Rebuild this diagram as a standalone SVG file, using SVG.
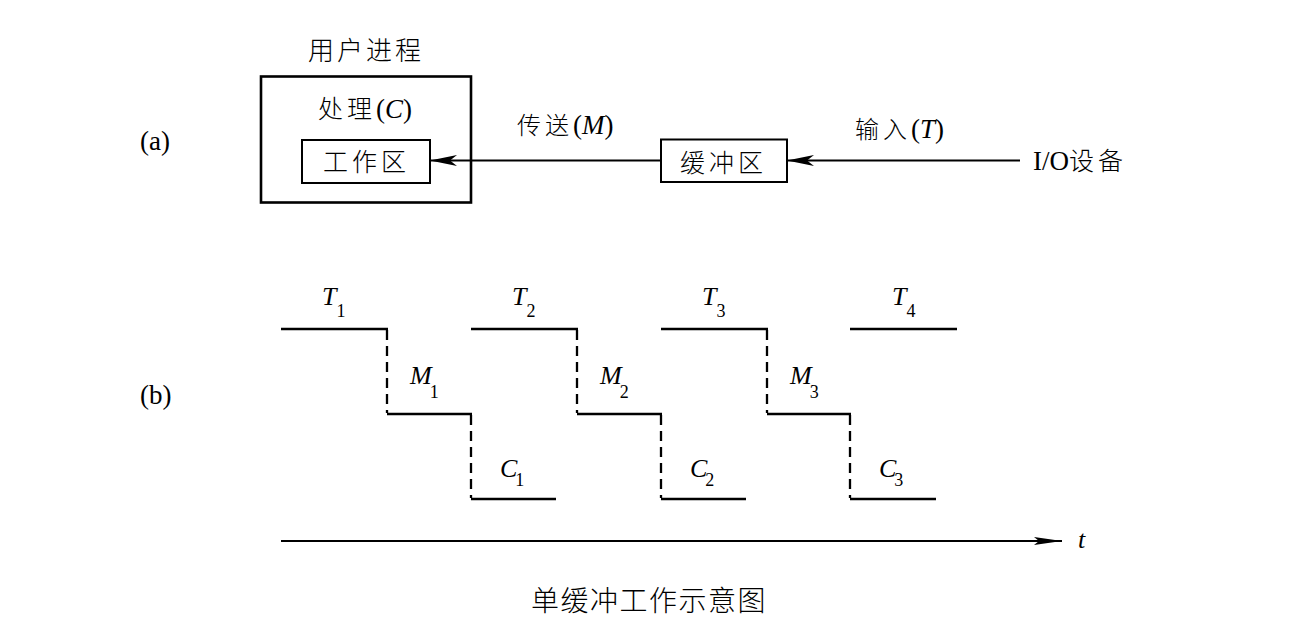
<svg xmlns="http://www.w3.org/2000/svg" width="1294" height="641" viewBox="0 0 1294 641">
<style>
.cjk{font-family:"Noto Sans CJK SC","Noto Sans",sans-serif;font-weight:300;fill:#000;}
.lat{font-family:"Liberation Serif","Times New Roman",serif;fill:#000;}
.it{font-style:italic;}
.box{fill:none;stroke:#000;stroke-width:2;}
.obox{fill:none;stroke:#000;stroke-width:2.6;}
.lvl{fill:none;stroke:#000;stroke-width:2.6;}
.dash{fill:none;stroke:#000;stroke-width:2.3;stroke-dasharray:10 6;}
.conn{fill:none;stroke:#000;stroke-width:2;}
</style>
<defs>
<marker id="ah" markerUnits="userSpaceOnUse" orient="auto" refX="0" refY="0" markerWidth="30" markerHeight="14" overflow="visible">
<path d="M0,0 L-27,-5.5 L-20,0 L-27,5.5 Z" fill="#000"/>
</marker>
<marker id="ah2" markerUnits="userSpaceOnUse" orient="auto" refX="0" refY="0" markerWidth="30" markerHeight="10" overflow="visible">
<path d="M0,0 L-28,-4 L-23,0 L-28,4 Z" fill="#000"/>
</marker>
</defs>
<rect width="1294" height="641" fill="#fff"/>

<text class="lat" x="140" y="150" font-size="27">(a)</text>
<text class="lat" x="140" y="404" font-size="27">(b)</text>

<g id="user-process">
<text class="cjk" x="308" y="60" font-size="26" letter-spacing="3">用户进程</text>
<rect class="obox" x="261" y="76.5" width="210" height="126"/>
<text x="318" y="118"><tspan class="cjk" font-size="25" letter-spacing="4">处理</tspan><tspan class="lat" font-size="27">(</tspan><tspan class="lat it" font-size="27">C</tspan><tspan class="lat" font-size="27">)</tspan></text>
</g>
<g id="work-area">
<rect class="box" x="302" y="140" width="128" height="43"/>
<text class="cjk" x="323" y="171" font-size="25" letter-spacing="4">工作区</text>
</g>
<g id="buffer">
<rect class="box" x="661" y="139.5" width="126" height="42.5"/>
<text class="cjk" x="680" y="172" font-size="25" letter-spacing="4">缓冲区</text>
</g>
<g id="io-device">
<text x="1033" y="170"><tspan class="lat" font-size="27">I/O</tspan><tspan class="cjk" font-size="25" letter-spacing="4">设备</tspan></text>
</g>

<g id="connectors">
<line class="conn" x1="661" y1="160.5" x2="430" y2="160.5" marker-end="url(#ah)"/>
<line class="conn" x1="1020" y1="160.5" x2="787" y2="160.5" marker-end="url(#ah)"/>
<text x="517" y="134"><tspan class="cjk" font-size="24" letter-spacing="4">传送</tspan><tspan class="lat" font-size="27">(</tspan><tspan class="lat it" font-size="27">M</tspan><tspan class="lat" font-size="27">)</tspan></text>
<text x="855" y="138"><tspan class="cjk" font-size="24" letter-spacing="4">输入</tspan><tspan class="lat" font-size="27">(</tspan><tspan class="lat it" font-size="27">T</tspan><tspan class="lat" font-size="27">)</tspan></text>
</g>

<g id="timing">
<line class="lvl" x1="281" y1="329" x2="388" y2="329"/>
<line class="lvl" x1="471" y1="329" x2="578" y2="329"/>
<line class="lvl" x1="661" y1="329" x2="768" y2="329"/>
<line class="lvl" x1="850" y1="329" x2="957" y2="329"/>
<line class="lvl" x1="387" y1="414" x2="472" y2="414"/>
<line class="lvl" x1="577" y1="414" x2="662" y2="414"/>
<line class="lvl" x1="767" y1="414" x2="851" y2="414"/>
<line class="lvl" x1="471" y1="499" x2="556" y2="499"/>
<line class="lvl" x1="661" y1="499" x2="746" y2="499"/>
<line class="lvl" x1="850" y1="499" x2="936" y2="499"/>
<line class="dash" x1="387" y1="330" x2="387" y2="413"/>
<line class="dash" x1="577" y1="330" x2="577" y2="413"/>
<line class="dash" x1="767" y1="330" x2="767" y2="413"/>
<line class="dash" x1="471" y1="415" x2="471" y2="498"/>
<line class="dash" x1="661" y1="415" x2="661" y2="498"/>
<line class="dash" x1="850" y1="415" x2="850" y2="498"/>
<text class="lat" x="322" y="305"><tspan class="it" font-size="26">T</tspan><tspan font-size="18" dy="12">1</tspan></text>
<text class="lat" x="512" y="305"><tspan class="it" font-size="26">T</tspan><tspan font-size="18" dy="12">2</tspan></text>
<text class="lat" x="702" y="305"><tspan class="it" font-size="26">T</tspan><tspan font-size="18" dy="12">3</tspan></text>
<text class="lat" x="892" y="305"><tspan class="it" font-size="26">T</tspan><tspan font-size="18" dy="12">4</tspan></text>
<text class="lat" x="410" y="384"><tspan class="it" font-size="26">M</tspan><tspan font-size="18" dy="14" dx="-2">1</tspan></text>
<text class="lat" x="600" y="384"><tspan class="it" font-size="26">M</tspan><tspan font-size="18" dy="14" dx="-2">2</tspan></text>
<text class="lat" x="790" y="384"><tspan class="it" font-size="26">M</tspan><tspan font-size="18" dy="14" dx="-2">3</tspan></text>
<text class="lat" x="500" y="477"><tspan class="it" font-size="26">C</tspan><tspan font-size="18" dy="9" dx="-2">1</tspan></text>
<text class="lat" x="690" y="477"><tspan class="it" font-size="26">C</tspan><tspan font-size="18" dy="9" dx="-2">2</tspan></text>
<text class="lat" x="879" y="477"><tspan class="it" font-size="26">C</tspan><tspan font-size="18" dy="9" dx="-2">3</tspan></text>
<line class="conn" x1="281" y1="541" x2="1062" y2="541" marker-end="url(#ah2)"/>
<text class="lat it" x="1078" y="548" font-size="26">t</text>
</g>

<text class="cjk" x="531" y="611" font-size="28" letter-spacing="1.5">单缓冲工作示意图</text>
</svg>
